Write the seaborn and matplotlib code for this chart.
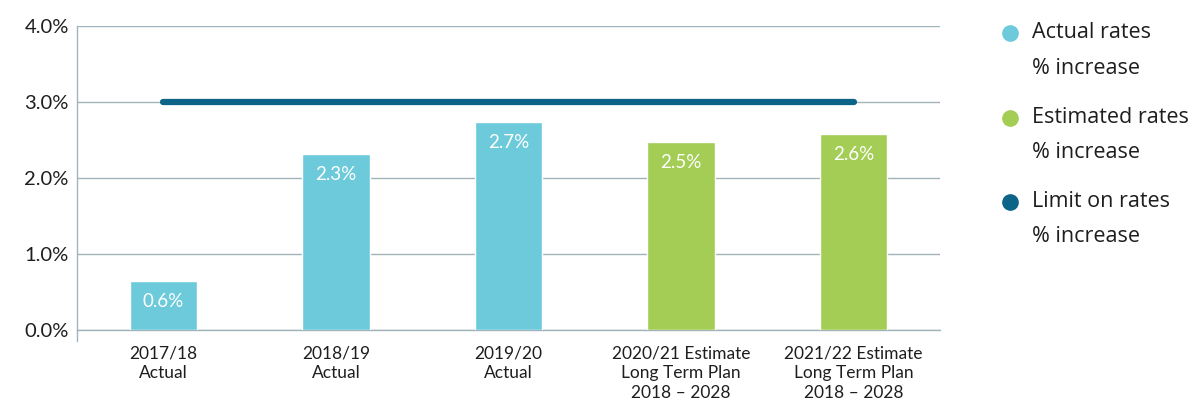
import matplotlib
matplotlib.use("Agg")
import matplotlib.pyplot as plt
from matplotlib.lines import Line2D
import seaborn as sns
import pandas as pd

categories = [
    "2017/18\nActual",
    "2018/19\nActual",
    "2019/20\nActual",
    "2020/21 Estimate\nLong Term Plan\n2018 – 2028",
    "2021/22 Estimate\nLong Term Plan\n2018 – 2028",
]
rate_increase = [0.64, 2.31, 2.74, 2.48, 2.58]
rate_type = ["Actual", "Actual", "Actual", "Estimated", "Estimated"]
limit_value = 3.0
y_ticks = [0.0, 1.0, 2.0, 3.0, 4.0]
legend_titles = ["Actual rates", "Estimated rates", "Limit on rates"]
legend_sub = "% increase"

colors = {"Actual": "#6ccadb", "Estimated": "#a3cd55"}
limit_color = "#0c6488"
grid_color = "#a3b3bb"
text_color = "#1e1e1e"

sns.set_theme(style="white")
plt.rcParams["font.family"] = ["Lato", "DejaVu Sans"]

df = pd.DataFrame({"category": categories, "value": rate_increase, "type": rate_type})

fig = plt.figure(figsize=(11.92, 4.03), dpi=100)
ax = fig.add_axes([0.0646, 0.181, 0.7240, 0.7545])

sns.barplot(data=df, x="category", y="value", hue="type", palette=colors,
            dodge=False, width=0.39, saturation=1, legend=False, ax=ax, zorder=3)

# Horizontal limit line from first to last category centre
ax.plot([0, len(categories) - 1], [limit_value, limit_value], color=limit_color,
        lw=4.5, solid_capstyle="round", zorder=4)

# Value labels inside bars
for i, v in enumerate(rate_increase):
    ax.text(i, v - 0.27, f"{v:.1f}%", ha="center", va="center", color="white",
            fontsize=13.5, zorder=5)

ax.set_ylim(0, 4)
ax.set_xlim(-0.5, len(categories) - 0.5)
ax.set_yticks(y_ticks)
ax.set_yticklabels([f"{t:.1f}%" for t in y_ticks], fontsize=14.5, color=text_color)
ax.yaxis.grid(True, color=grid_color, lw=1)
ax.set_axisbelow(True)
ax.set_xlabel("")
ax.set_ylabel("")

ax.set_xticks(range(len(categories)))
ax.set_xticklabels(categories, fontsize=12.5, color=text_color, linespacing=1.3)
ax.set_xticks([i - 0.5 for i in range(len(categories) + 1)], minor=True)
ax.tick_params(axis="x", which="major", length=0, pad=11)
ax.tick_params(axis="x", which="minor", length=10, width=1, color=grid_color, direction="out")
ax.tick_params(axis="y", length=0, pad=6)

for side in ["top", "right"]:
    ax.spines[side].set_visible(False)
for side in ["left", "bottom"]:
    ax.spines[side].set_color(grid_color)
    ax.spines[side].set_linewidth(1)
ax.spines["left"].set_bounds(-0.15, 4)

# Legend on the right
legend_colors = [colors["Actual"], colors["Estimated"], limit_color]
for k, (title, col) in enumerate(zip(legend_titles, legend_colors)):
    y_px = 33 + k * 84.5
    y = 1 - y_px / 403
    fig.add_artist(Line2D([1010 / 1192], [y], marker="o", markersize=11,
                          color=col, transform=fig.transFigure, linestyle="none"))
    fig.text(1032 / 1192, y, title, fontsize=15.5, color=text_color,
             va="center", ha="left", family=["Open Sans", "DejaVu Sans"])
    fig.text(1032 / 1192, 1 - (y_px + 35) / 403, legend_sub, fontsize=15.5,
             color=text_color, va="center", ha="left",
             family=["Open Sans", "DejaVu Sans"])

fig.savefig("out.png", dpi=100)
